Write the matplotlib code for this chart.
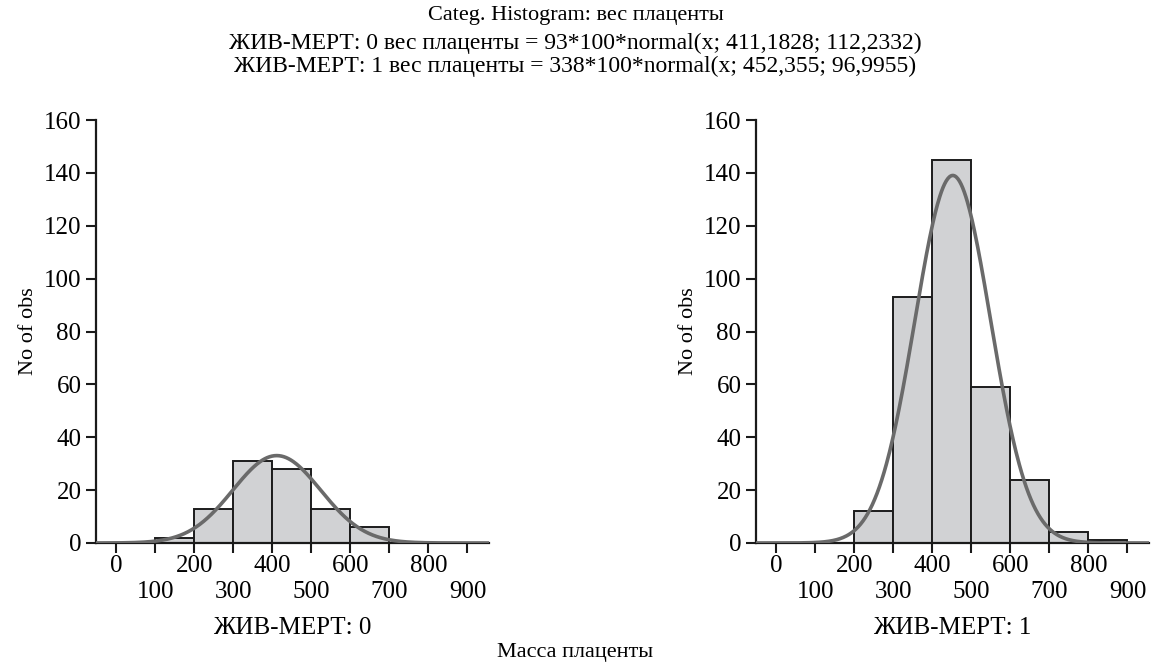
import numpy as np
import matplotlib
matplotlib.use("Agg")
import matplotlib.pyplot as plt

plt.rcParams['font.family'] = ['Liberation Serif', 'DejaVu Serif']

# bin edges (left) and counts
bins_0 = [100, 200, 300, 400, 500, 600]
counts_0 = [2, 13, 31, 28, 13, 6]
bins_1 = [200, 300, 400, 500, 600, 700, 800]
counts_1 = [12, 93, 145, 59, 24, 4, 1]

# normal fit params from the title
n_0, mu_0, sd_0 = 93, 411.1828, 112.2332
n_1, mu_1, sd_1 = 338, 452.355, 96.9955

xticks = list(range(0, 1000, 100))
xticklabels = [str(t) if (t // 100) % 2 == 0 else "\n" + str(t) for t in xticks]
yticks = list(range(0, 180, 20))

bar_color = '#d1d2d4'
edge_color = '#1c1c1c'
line_color = '#6a6a6a'


def normal(x, mu, sd):
    return np.exp(-0.5 * ((x - mu) / sd) ** 2) / (sd * np.sqrt(2 * np.pi))


fig = plt.figure(figsize=(11.51, 6.63), dpi=100)
ax0 = fig.add_axes([0.0834, 0.181, 0.3414, 0.638])
ax1 = fig.add_axes([0.6568, 0.181, 0.3414, 0.638])

xs = np.linspace(-50, 955, 500)
for ax, b, c, n, mu, sd, lab in [(ax0, bins_0, counts_0, n_0, mu_0, sd_0, 'ЖИВ-МЕРТ: 0'),
                                  (ax1, bins_1, counts_1, n_1, mu_1, sd_1, 'ЖИВ-МЕРТ: 1')]:
    ax.bar(b, c, width=100, align='edge', color=bar_color, edgecolor=edge_color,
           linewidth=1.4, zorder=2)
    ax.plot(xs, n * 100 * normal(xs, mu, sd), color=line_color, lw=2.6, zorder=3)
    ax.set_xlim(-52, 955)
    ax.set_ylim(0, 160)
    ax.set_xticks(xticks)
    ax.set_xticklabels(xticklabels)
    ax.set_yticks(yticks)
    ax.spines['top'].set_visible(False)
    ax.spines['right'].set_visible(False)
    for s in ['left', 'bottom']:
        ax.spines[s].set_linewidth(1.6)
        ax.spines[s].set_color('#1a1a1a')
    ax.tick_params(axis='both', labelsize=18, width=1.5, length=7, color='#1a1a1a')
    ax.tick_params(axis='x', pad=2)
    ax.set_ylabel('No of obs', fontsize=16, labelpad=4)
    ax.set_xlabel(lab, fontsize=18, labelpad=10)

fig.text(0.5, 0.977, 'Categ. Histogram: вес плаценты', ha='center', va='center', fontsize=16)
fig.text(0.5, 0.934, 'ЖИВ-МЕРТ: 0 вес плаценты = 93*100*normal(x; 411,1828; 112,2332)',
         ha='center', va='center', fontsize=17)
fig.text(0.5, 0.900, 'ЖИВ-МЕРТ: 1 вес плаценты = 338*100*normal(x; 452,355; 96,9955)',
         ha='center', va='center', fontsize=17)
fig.text(0.5, 0.016, 'Масса плаценты', ha='center', va='center', fontsize=16)

fig.savefig('out.png', dpi=100)
